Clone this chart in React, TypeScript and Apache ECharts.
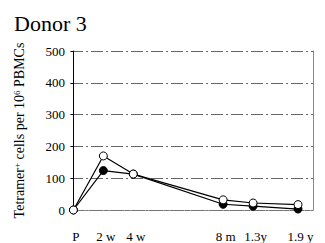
import React, { useEffect, useRef } from "react";
import * as echarts from "echarts";

const title = "Donor 3";
const timeLabels = ["P", "2 w", "4 w", "8 m", "1.3y", "1.9 y"];
const timePositions = [0, 1, 2, 5, 6, 7.5];
const openSeries = [0, 170, 113, 32, 22, 17];
const filledSeries = [0, 124, 113, 18, 12, 3];
const yTicks = [0, 100, 200, 300, 400, 500];

export default function App() {
  const ref = useRef<HTMLDivElement>(null);
  useEffect(() => {
    const chart = echarts.init(ref.current!, null, { renderer: "svg" });
    const font = "Liberation Serif";
    chart.setOption({
      animation: false,
      backgroundColor: "#fff",
      textStyle: { fontFamily: font },
      title: {
        text: title,
        left: 9,
        top: 7,
        textStyle: { fontFamily: font, fontSize: 22, fontWeight: "normal", color: "#000" },
      },
      grid: { left: 71, right: 12, top: 51, bottom: 33, outerBoundsMode: "none", containLabel: false },
      xAxis: {
        type: "value",
        min: -0.08,
        max: 8,
        axisLine: { show: true, lineStyle: { color: "#777", width: 1, type: [2, 1] } },
        axisTick: { show: false },
        splitLine: { show: false },
        axisLabel: {
          customValues: timePositions,
          formatter: (v: number) => {
            const i = timePositions.findIndex((p) => Math.abs(p - v) < 1e-6);
            return i >= 0 ? timeLabels[i] : "";
          },
          margin: 20,
          padding: [0, 0, 0, 5],
          fontFamily: font,
          fontSize: 13,
          color: "#000",
        },
      },
      yAxis: [
        {
          type: "value",
          min: yTicks[0],
          max: yTicks[yTicks.length - 1],
          interval: 100,
          name: "{m|Tetramer}{sup|+}{m| cells per 10}{sup|6}{m| PBMCs}",
          nameLocation: "middle",
          nameGap: 44,
          nameTextStyle: {
            fontFamily: font,
            fontSize: 14,
            color: "#000",
            rich: {
              m: { fontFamily: font, fontSize: 14, color: "#000" },
              sup: { fontFamily: font, fontSize: 9, color: "#000", verticalAlign: "top", padding: [0, 0, 6, 0] },
            },
          },
          axisLine: { show: true, lineStyle: { color: "#000", width: 1 } },
          axisTick: { show: true, length: 3, lineStyle: { color: "#000" } },
          axisLabel: { margin: 6, fontFamily: font, fontSize: 13, color: "#000" },
          splitLine: {
            show: true,
            lineStyle: { color: "#666", width: 1, type: [12, 3, 2, 3] },
          },
        },
        {
          type: "value",
          position: "right",
          min: 0,
          max: 500,
          axisLine: { show: true, lineStyle: { color: "#888", width: 1 } },
          axisTick: { show: false },
          axisLabel: { show: false },
          splitLine: { show: false },
        },
      ],
      series: [
        {
          type: "line",
          data: timePositions.map((x, i) => [x, filledSeries[i]]),
          symbol: "circle",
          symbolSize: 8,
          itemStyle: { color: "#000", borderColor: "#000", borderWidth: 1 },
          lineStyle: { color: "#000", width: 1.2 },
          z: 2,
        },
        {
          type: "line",
          data: timePositions.map((x, i) => [x, openSeries[i]]),
          symbol: "circle",
          symbolSize: 8,
          itemStyle: { color: "#fff", borderColor: "#000", borderWidth: 1 },
          lineStyle: { color: "#000", width: 1.2 },
          z: 3,
        },
      ],
    });
    return () => chart.dispose();
  }, []);
  return <div ref={ref} style={{ width: 325, height: 243, position: "absolute", left: 0, top: 0 }} />;
}
